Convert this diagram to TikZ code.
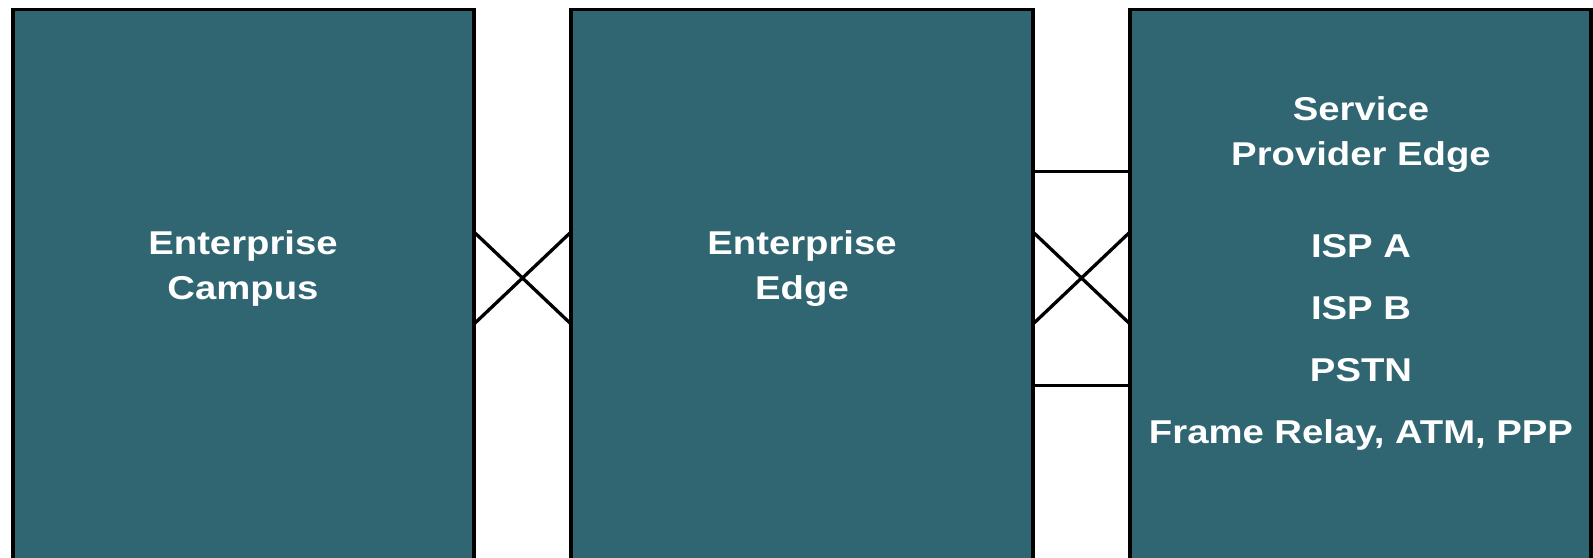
\documentclass[tikz,border=0pt]{standalone}
\usepackage{fontspec}
\usepackage{graphicx}
\setmainfont{Liberation Sans}
\definecolor{blockteal}{RGB}{48,102,114}
\newcommand{\widetext}[1]{\scalebox{1.16}[1]{#1}}
\tikzset{
  block/.style={draw=black, line width=3.8pt, fill=blockteal, rectangle,
    anchor=north west, inner sep=0pt, outer sep=0pt, minimum height=700pt},
  link/.style={draw=black, line width=3.3pt},
  lbl/.style={anchor=base, text=white, inner sep=0pt,
    font=\bfseries\fontsize{33}{40}\selectfont},
}
\begin{document}
\begin{tikzpicture}[x=1pt, y=-1pt]
  \useasboundingbox (0,0) rectangle (1593,557);
  \clip (0,0) rectangle (1593,557);
  \fill[white] (0,0) rectangle (1593,557);

  % the three blocks, running past the lower edge
  \node[block, minimum width=461pt] (campus) at (13,9.5) {};
  \node[block, minimum width=462pt] (edge)   at (571,9.5) {};
  \node[block, minimum width=461pt] (sp)     at (1130,9.5) {};

  % crossed links between campus and edge
  \draw[link] (campus.east |- 0,232) -- (edge.west |- 0,324);
  \draw[link] (campus.east |- 0,324) -- (edge.west |- 0,232);

  % links between edge and service provider
  \draw[link] (edge.east |- 0,171.5) -- (sp.west |- 0,171.5);
  \draw[link] (edge.east |- 0,232) -- (sp.west |- 0,324);
  \draw[link] (edge.east |- 0,324) -- (sp.west |- 0,232);
  \draw[link] (edge.east |- 0,385.5) -- (sp.west |- 0,385.5);

  % labels
  \node[lbl] (campus1) at (243,254)   {\widetext{Enterprise}};
  \node[lbl] (campus2) at (243,299.5) {\widetext{Campus}};
  \node[lbl] (edge1)   at (802,254)   {\widetext{Enterprise}};
  \node[lbl] (edge2)   at (802,299.5) {\widetext{Edge}};
  \node[lbl] (sp1)     at (1361,120)  {\widetext{Service}};
  \node[lbl] (sp2)     at (1361,165)  {\widetext{Provider Edge}};
  \node[lbl] (isa)     at (1361,257)  {\widetext{ISP A}};
  \node[lbl] (isb)     at (1361,319)  {\widetext{ISP B}};
  \node[lbl] (pstn)    at (1361,381)  {\widetext{PSTN}};
  \node[lbl] (wan)     at (1361,443)  {\widetext{Frame Relay, ATM, PPP}};
\end{tikzpicture}
\end{document}
